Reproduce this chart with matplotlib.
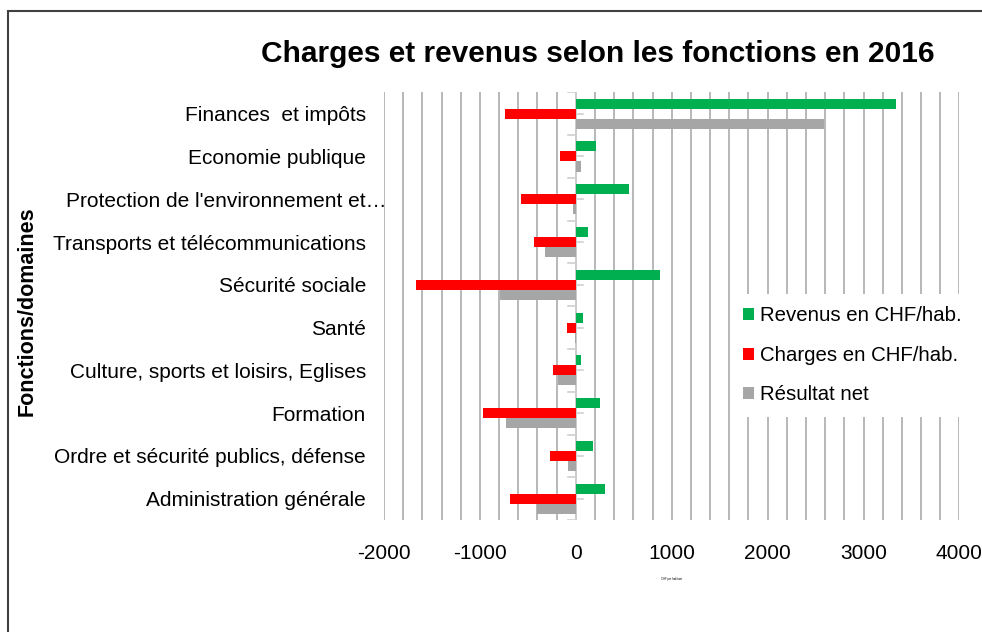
import numpy as np
import matplotlib
matplotlib.use("Agg")
import matplotlib.pyplot as plt
import matplotlib.transforms as mtransforms
from matplotlib.patches import Rectangle

plt.rcParams['font.family'] = ['Liberation Sans', 'DejaVu Sans']
plt.rcParams['axes.unicode_minus'] = False

# categories from bottom to top (Excel order)
categories = ["Administration générale",
              "Ordre et sécurité publics, défense",
              "Formation",
              "Culture, sports et loisirs, Eglises",
              "Santé",
              "Sécurité sociale",
              "Transports et télécommunications",
              "Protection de l'environnement et…",
              "Economie publique",
              "Finances  et impôts"]
revenus = [300, 180, 250, 55, 80, 880, 125, 550, 210, 3340]
charges = [-690, -265, -970, -240, -90, -1665, -440, -575, -160, -740]
resultat = [-400, -85, -725, -185, -10, -790, -320, -25, 50, 2590]
series_names = ["Revenus en CHF/hab.", "Charges en CHF/hab.", "Résultat net"]
colors = ["#00b050", "#ff0000", "#a6a6a6"]
x_ticks = [-2000, -1000, 0, 1000, 2000, 3000, 4000]

fig = plt.figure(figsize=(9.82, 6.32), dpi=100)
ax = fig.add_axes([0.391, 0.177, 0.586, 0.677])

y = np.arange(len(categories))
h = 0.235
for i, (vals, name, c) in enumerate(zip([revenus, charges, resultat], series_names, colors)):
    ax.barh(y + h * (1 - i), vals, height=h, color=c, label=name, zorder=3)

ax.set_xlim(-2000, 4000)
ax.set_ylim(-0.5, len(categories) - 0.5)
ax.set_xticks(x_ticks)
ax.set_xticks(np.arange(-2000, 4001, 200), minor=True)
ax.xaxis.grid(True, which='both', color='#b8b8b8', linewidth=1.4, zorder=0)
ax.set_axisbelow(True)
ax.tick_params(axis='x', which='both', length=0, labelsize=15, pad=17)
ax.set_yticks(y)
ax.set_yticklabels(categories, fontsize=15)
ax.tick_params(axis='y', length=0, pad=13)
for s in ax.spines.values():
    s.set_visible(False)

# the truncated label sticks out a bit to the right in the original
lbl = ax.get_yticklabels()[7]
lbl.set_transform(lbl.get_transform() +
                  mtransforms.ScaledTranslation(0.21, 0, fig.dpi_scale_trans))

# vertical axis at zero with tick marks
ax.axvline(0, color='#d0d0d0', linewidth=1.2, zorder=2)
for b in np.arange(-0.5, len(categories), 1.0):
    ax.plot([-80, 0], [b, b], color='#d0d0d0', linewidth=1.2, zorder=2)
for c in y:
    ax.plot([0, 80], [c, c], color='#d0d0d0', linewidth=1.2, zorder=2)

ax.set_xlabel("CHF par habitant", fontsize=2, labelpad=10)
fig.text(0.028, 0.508, "Fonctions/domaines", rotation=90, fontsize=15.5,
         fontweight='bold', ha='center', va='center')
fig.text(0.609, 0.915, "Charges et revenus selon les fonctions en 2016",
         fontsize=21.5, fontweight='bold', ha='center', va='center')

leg = ax.legend(loc='center left', bbox_to_anchor=(0.585, 0.385), fontsize=14.7,
                frameon=True, fancybox=False, edgecolor='none', framealpha=1,
                handlelength=0.55, handleheight=0.55, handletextpad=0.3,
                labelspacing=1.0, borderpad=0.6)
leg.set_zorder(5)

fig.patches.append(Rectangle((8 / 982, -0.1), 1.2, 1 - 11 / 632 + 0.1,
                             transform=fig.transFigure, fill=False,
                             edgecolor='#404040', linewidth=1.5))

fig.savefig("out.png", dpi=100)
